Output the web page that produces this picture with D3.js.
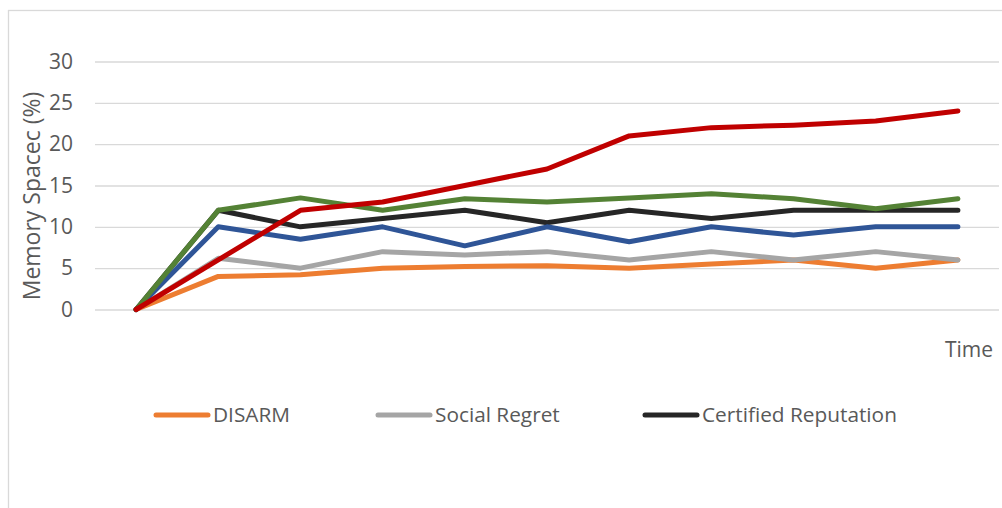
<!DOCTYPE html>
<html>
<head>
<meta charset="utf-8">
<script src="https://cdn.jsdelivr.net/npm/d3@7"></script>
<style>
  html, body { margin: 0; padding: 0; background: #fff; }
  svg { display: block; font-family: "Open Sans", "Liberation Sans", sans-serif; }
</style>
</head>
<body>
<svg id="chart" width="1002" height="508"></svg>
<script>
// Time steps along the x axis (no visible labels)
const timeSteps = [1, 2, 3, 4, 5, 6, 7, 8, 9, 10, 11];

// Memory space used (%) per method
const disarm       = [0, 4, 4.2, 5, 5.2, 5.3, 5, 5.5, 6, 5, 6];
const socialRegret = [0, 6.2, 5, 7, 6.6, 7, 6, 7, 6, 7, 6];
const certifiedRep = [0, 12, 10, 11, 12, 10.5, 12, 11, 12, 12, 12];
const series4      = [0, 10, 8.5, 10, 7.7, 10, 8.2, 10, 9, 10, 10];
const series5      = [0, 12, 13.5, 12, 13.4, 13, 13.5, 14, 13.4, 12.2, 13.4];
const series6      = [0, 6, 12, 13, 15, 17, 21, 22, 22.3, 22.8, 24];

const seriesNames  = ["DISARM", "Social Regret", "Certified Reputation", "Series 4", "Series 5", "Series 6"];
const legendNames  = ["DISARM", "Social Regret", "Certified Reputation"];
const yTicks       = [0, 5, 10, 15, 20, 25, 30];

const seriesValues = [disarm, socialRegret, certifiedRep, series4, series5, series6];
const colors = ["#ED7D31", "#A5A5A5", "#262626", "#2F5597", "#548235", "#C00000"];

const svg = d3.select("#chart");
const textColor = "#595959";

// Outer chart frame
svg.append("rect")
  .attr("x", 8.5).attr("y", 10.5)
  .attr("width", 1100).attr("height", 600)
  .attr("fill", "none").attr("stroke", "#d9d9d9").attr("stroke-width", 1.3);

const plot = { left: 95, right: 999, top: 61.5, bottom: 309.5 };

const x = d3.scaleBand().domain(timeSteps).range([plot.left, plot.right]);
const y = d3.scaleLinear().domain([0, 30]).range([plot.bottom, plot.top]);

// Y axis with horizontal gridlines
const yAxis = svg.append("g")
  .attr("transform", `translate(${plot.left},0)`)
  .call(d3.axisLeft(y).tickValues(yTicks).tickSize(-(plot.right - plot.left)).tickPadding(22).tickFormat(d3.format("d")));
yAxis.select(".domain").remove();
yAxis.selectAll(".tick line").attr("stroke", "#d9d9d9").attr("stroke-width", 1.3);
yAxis.selectAll(".tick text")
  .attr("fill", textColor)
  .style("font-size", "21px")
  .style("font-family", "\"Open Sans\", sans-serif");

// Axis titles
svg.append("text")
  .attr("transform", "translate(40,196) rotate(-90)")
  .attr("text-anchor", "middle")
  .attr("fill", textColor)
  .style("font-size", "23px")
  .text("Memory Spacec (%)");

svg.append("text")
  .attr("x", 993).attr("y", 357)
  .attr("text-anchor", "end")
  .attr("fill", textColor)
  .style("font-size", "21px")
  .text("Time");

// Lines
const line = d3.line()
  .x((d, i) => x(timeSteps[i]) + x.bandwidth() / 2)
  .y(d => y(d));

svg.append("g").selectAll("path")
  .data(seriesValues)
  .join("path")
  .attr("d", d => line(d))
  .attr("fill", "none")
  .attr("stroke", (d, i) => colors[i])
  .attr("stroke-width", 5)
  .attr("stroke-linejoin", "round")
  .attr("stroke-linecap", "round");

// Legend
const legendX = [154, 376, 643];
const legend = svg.append("g").selectAll("g")
  .data(legendNames)
  .join("g")
  .attr("transform", (d, i) => `translate(${legendX[i]},415)`);
legend.append("line")
  .attr("x1", 2).attr("x2", 54)
  .attr("stroke", (d, i) => colors[i])
  .attr("stroke-width", 5)
  .attr("stroke-linecap", "round");
legend.append("text")
  .attr("x", 59).attr("y", 7)
  .attr("fill", textColor)
  .style("font-size", "20.8px")
  .text(d => d);
</script>
</body>
</html>
